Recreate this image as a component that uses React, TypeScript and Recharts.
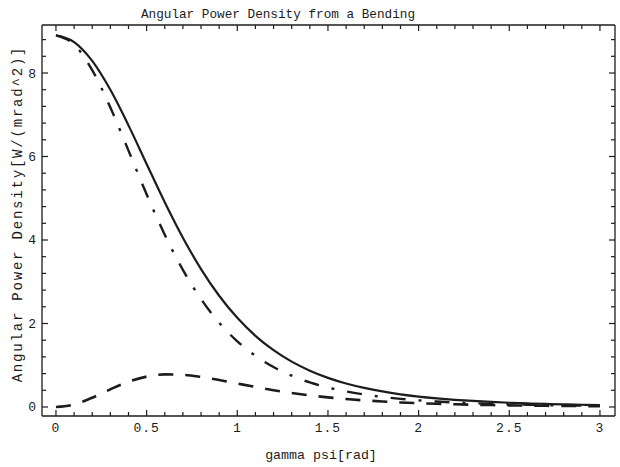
import React from 'react';
import { LineChart, Line, XAxis, YAxis } from 'recharts';

// gamma*psi sample points and the three power curves
const gammaPsi = [0, 0.1, 0.2, 0.3, 0.4, 0.5, 0.6, 0.7, 0.8, 0.9, 1, 1.1, 1.2, 1.3, 1.4, 1.5, 1.6, 1.7, 1.8, 1.9, 2, 2.1, 2.2, 2.3, 2.4, 2.5, 2.6, 2.7, 2.8, 2.9, 3];
const totalPower = [8.9, 8.742, 8.291, 7.598, 6.746, 5.822, 4.906, 4.056, 3.304, 2.665, 2.135, 1.705, 1.36, 1.086, 0.87, 0.698, 0.563, 0.457, 0.372, 0.304, 0.25, 0.207, 0.172, 0.144, 0.121, 0.102, 0.086, 0.073, 0.063, 0.054, 0.046];
const sigmaPower = [8.9, 8.681, 8.069, 7.175, 6.141, 5.094, 4.126, 3.284, 2.584, 2.019, 1.573, 1.226, 0.957, 0.75, 0.59, 0.467, 0.372, 0.298, 0.241, 0.195, 0.159, 0.131, 0.108, 0.09, 0.075, 0.063, 0.053, 0.045, 0.038, 0.033, 0.028];
const piPower = [0, 0.061, 0.222, 0.423, 0.605, 0.728, 0.78, 0.771, 0.72, 0.646, 0.562, 0.479, 0.403, 0.336, 0.279, 0.231, 0.191, 0.158, 0.131, 0.109, 0.091, 0.076, 0.064, 0.054, 0.046, 0.039, 0.033, 0.028, 0.024, 0.021, 0.018];

const xTicks = [0, 0.1, 0.2, 0.3, 0.4, 0.5, 0.6, 0.7, 0.8, 0.9, 1, 1.1, 1.2, 1.3, 1.4, 1.5, 1.6, 1.7, 1.8, 1.9, 2, 2.1, 2.2, 2.3, 2.4, 2.5, 2.6, 2.7, 2.8, 2.9, 3];
const xMajor = [0, 0.5, 1, 1.5, 2, 2.5, 3];
const yTicks = [0, 0.4, 0.8, 1.2, 1.6, 2, 2.4, 2.8, 3.2, 3.6, 4, 4.4, 4.8, 5.2, 5.6, 6, 6.4, 6.8, 7.2, 7.6, 8, 8.4, 8.8];
const yMajor = [0, 2, 4, 6, 8];

const data = gammaPsi.map((x, i) => ({
  x,
  total: totalPower[i],
  sigma: sigmaPower[i],
  pi: piPower[i],
}));

const ink = '#1c1c1c';
const mono = '"Liberation Mono", "DejaVu Sans Mono", monospace';
const xDomain = [-0.077, 3.083];
const yDomain = [-0.216, 9.15];

function BottomTick({ x, y, payload }: any) {
  const major = xMajor.includes(payload.value);
  return (
    <g>
      <line x1={x} x2={x} y1={y} y2={y - (major ? 6 : 4)} stroke={ink} strokeWidth={1.2} />
      {major && (
        <text x={x} y={y + 16} textAnchor="middle" fontFamily={mono} fontSize={13} letterSpacing={1} fill={ink}>
          {payload.value}
        </text>
      )}
    </g>
  );
}

function TopTick({ x, y, payload }: any) {
  const major = xMajor.includes(payload.value);
  return <line x1={x} x2={x} y1={y} y2={y + (major ? 6 : 4)} stroke={ink} strokeWidth={1.2} />;
}

function LeftTick({ x, y, payload }: any) {
  const major = yMajor.includes(payload.value);
  return (
    <g>
      <line x1={x} x2={x + (major ? 6 : 4)} y1={y} y2={y} stroke={ink} strokeWidth={1.2} />
      {major && (
        <text x={x - 6} y={y + 4.5} textAnchor="end" fontFamily={mono} fontSize={13} fill={ink}>
          {payload.value}
        </text>
      )}
    </g>
  );
}

function RightTick({ x, y, payload }: any) {
  const major = yMajor.includes(payload.value);
  return <line x1={x} x2={x - (major ? 6 : 4)} y1={y} y2={y} stroke={ink} strokeWidth={1.2} />;
}

const Title = () => (
  <text x={278} y={18} textAnchor="middle" fontFamily={mono} fontSize={12.7} fill={ink}>
    Angular Power Density from a Bending
  </text>
);

const XTitle = () => (
  <text x={321} y={459} textAnchor="middle" fontFamily={mono} fontSize={13.3} fill={ink}>
    gamma psi[rad]
  </text>
);

const YTitle = () => (
  <text
    x={18}
    y={214}
    textAnchor="middle"
    dominantBaseline="central"
    transform="rotate(-90, 18, 214)"
    fontFamily={mono}
    fontSize={14}
    letterSpacing={1.8}
    fill={ink}
  >
    Angular Power Density[W/(mrad^2)]
  </text>
);

export default function App() {
  return (
    <div style={{ position: 'absolute', left: 0, top: 0, background: '#fff' }}>
      <LineChart width={620} height={467} data={data} margin={{ top: 24, right: 4, bottom: 0, left: 0 }}>
        <XAxis
          dataKey="x"
          type="number"
          domain={xDomain}
          allowDataOverflow
          ticks={xTicks}
          interval={0}
          tickSize={0}
          tickMargin={0}
          tickLine={false}
          tick={<BottomTick />}
          height={51}
          axisLine={{ stroke: ink, strokeWidth: 1.6 }}
          label={<XTitle />}
        />
        <XAxis
          xAxisId="top"
          orientation="top"
          dataKey="x"
          type="number"
          domain={xDomain}
          allowDataOverflow
          ticks={xTicks}
          interval={0}
          tickSize={0}
          tickMargin={0}
          tickLine={false}
          tick={<TopTick />}
          height={1}
          axisLine={{ stroke: ink, strokeWidth: 1.3 }}
          label={<Title />}
        />
        <YAxis
          type="number"
          domain={yDomain}
          allowDataOverflow
          ticks={yTicks}
          interval={0}
          tickSize={0}
          tickMargin={0}
          tickLine={false}
          tick={<LeftTick />}
          width={42}
          axisLine={{ stroke: ink, strokeWidth: 1.3 }}
          label={<YTitle />}
        />
        <YAxis
          yAxisId="right"
          orientation="right"
          type="number"
          domain={yDomain}
          allowDataOverflow
          ticks={yTicks}
          interval={0}
          tickSize={0}
          tickMargin={0}
          tickLine={false}
          tick={<RightTick />}
          width={1}
          axisLine={{ stroke: ink, strokeWidth: 1.3 }}
        />
        <Line type="monotone" dataKey="pi" stroke={ink} strokeWidth={2.6} strokeDasharray="15 12" dot={false} activeDot={false} isAnimationActive={false} />
        <Line type="monotone" dataKey="sigma" stroke={ink} strokeWidth={2.4} strokeDasharray="15 13 3 13" dot={false} activeDot={false} isAnimationActive={false} />
        <Line type="monotone" dataKey="total" stroke={ink} strokeWidth={2.2} dot={false} activeDot={false} isAnimationActive={false} />
      </LineChart>
    </div>
  );
}
